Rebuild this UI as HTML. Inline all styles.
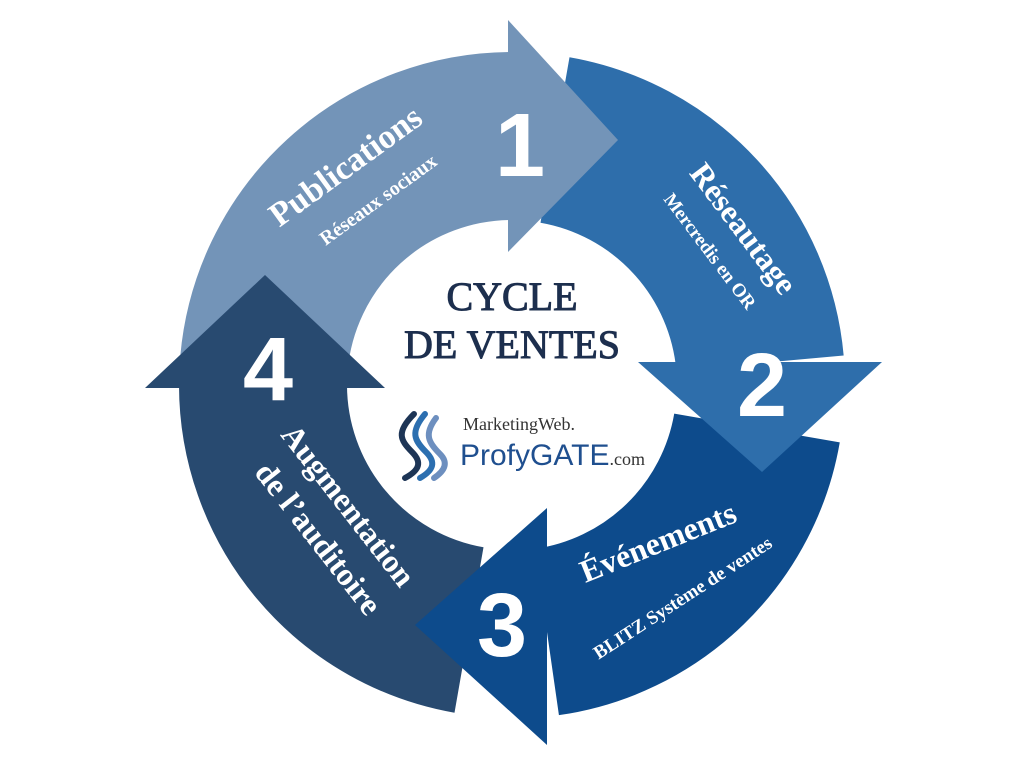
<!DOCTYPE html>
<html><head><meta charset="utf-8"><style>body{margin:0;background:#fff}svg{display:block}</style></head><body>
<svg width="1024" height="768" viewBox="0 0 1024 768">
<g fill="none" stroke-width="168">
<path d="M264,363 A249,249 0 0 1 512,136" stroke="#7394b8"/>
<path d="M555,140 A249,249 0 0 1 760,363" stroke="#2e6eab"/>
<path d="M757,428 A249,249 0 0 1 547,632" stroke="#0d4b8c"/>
<path d="M469,630 A249,249 0 0 1 263,385" stroke="#284a70"/>
</g>
<polygon points="508,20 508,252 618,140" fill="#7394b8"/>
<polygon points="638,362 882,362 762,472" fill="#2e6eab"/>
<polygon points="547,508 547,745 415,625" fill="#0d4b8c"/>
<polygon points="145,388 385,388 265,275" fill="#284a70"/>
<g fill="#fff" font-family="Liberation Serif, serif" font-weight="bold" text-anchor="middle">
<text x="352" y="175" font-size="34" transform="rotate(-36 352 175)">Publications</text>
<text x="382" y="205" font-size="20" transform="rotate(-36 382 205)">Réseaux sociaux</text>
<text x="735" y="235" font-size="32" transform="rotate(53 735 235)">Réseautage</text>
<text x="705" y="255" font-size="19" transform="rotate(53 705 255)">Mercredis en OR</text>
<text x="662" y="552" font-size="32" transform="rotate(-22 662 552)">Événements</text>
<text x="686" y="603" font-size="19" transform="rotate(-33 686 603)">BLITZ Système de ventes</text>
<text x="340" y="512" font-size="32" transform="rotate(52 340 512)">Augmentation</text>
<text x="310" y="545" font-size="32" transform="rotate(52 310 545)">de l’auditoire</text>
</g>
<g fill="#fff" font-family="Liberation Sans, sans-serif" font-weight="bold" text-anchor="middle" font-size="90">
<text x="520" y="176">1</text>
<text x="762" y="416">2</text>
<text x="502" y="656">3</text>
<text x="268" y="400">4</text>
</g>
<g fill="#1d2f4e" stroke="#1d2f4e" stroke-width="1" font-family="Liberation Serif, serif" text-anchor="middle" font-size="40">
<text x="512" y="310">CYCLE</text>
<text x="512" y="358">DE VENTES</text>
</g>
<g fill="none" stroke-width="6" stroke-linecap="round">
<path d="M414,414 C396,432 400,440 412,452 C422,462 420,470 405,478" stroke="#1d3556"/>
<path d="M425,414 C410,432 414,440 426,452 C436,462 434,470 420,478" stroke="#2c6fb0"/>
<path d="M436,418 C424,434 428,442 440,454 C448,462 446,470 434,478" stroke="#6d8fbf"/>
</g>
<text x="463" y="430" font-family="Liberation Serif, serif" font-size="18" fill="#333">MarketingWeb.</text>
<text x="460" y="465" font-family="Liberation Sans, sans-serif" font-size="30" fill="#1f4f8f">ProfyGATE<tspan font-family="Liberation Serif, serif" font-size="18" fill="#333">.com</tspan></text>
</svg>
</body></html>
